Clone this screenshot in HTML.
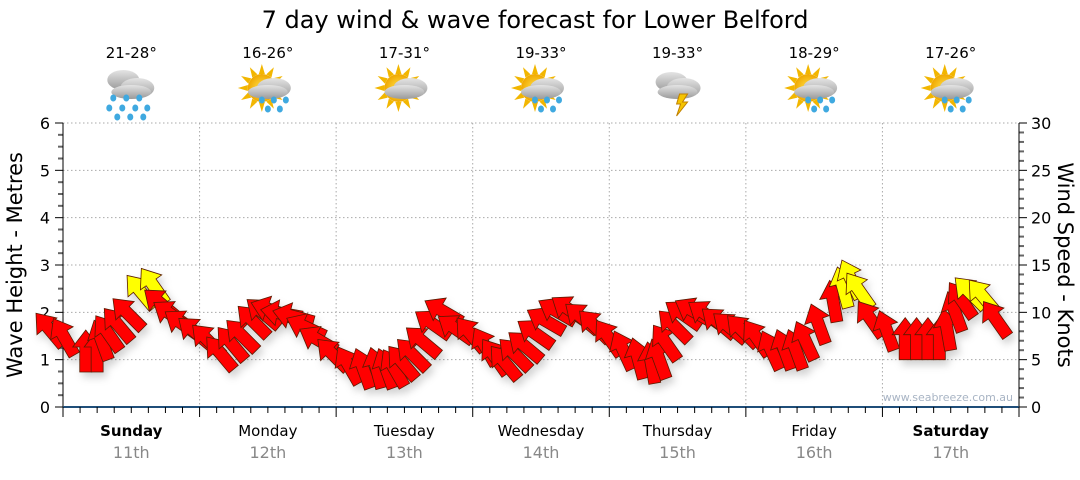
<!DOCTYPE html>
<html><head><meta charset="utf-8"><style>
body{margin:0;background:#fff;font-family:"Liberation Sans","DejaVu Sans",sans-serif}
svg text{font-family:"DejaVu Sans","Liberation Sans",sans-serif}
</style></head><body>
<svg id="c" width="1080" height="475" xmlns="http://www.w3.org/2000/svg">
<defs>
<filter id="sh" x="-50%" y="-50%" width="200%" height="200%"><feDropShadow dx="3" dy="5" stdDeviation="4" flood-color="#000" flood-opacity="0.18"/></filter>
<radialGradient id="sun"><stop offset="0" stop-color="#ffe04a"/><stop offset="1" stop-color="#f0a800"/></radialGradient>
<linearGradient id="cl" x1="0" y1="0" x2="0" y2="1"><stop offset="0" stop-color="#e4e4e4"/><stop offset="1" stop-color="#9a9a9a"/></linearGradient>
</defs>
<text x="535" y="28" font-size="24" text-anchor="middle">7 day wind &amp; wave forecast for Lower Belford</text>
<g id="grid"></g><g id="axes"></g><g id="icons"></g><g id="arrows" filter="url(#sh)"></g>
<text transform="translate(22,265) rotate(-90)" font-size="21" text-anchor="middle">Wave Height - Metres</text>
<text transform="translate(1058,265) rotate(90)" font-size="21" text-anchor="middle">Wind Speed - Knots</text>
<text x="1013" y="401" font-size="11" fill="#a8b4c4" text-anchor="end">www.seabreeze.com.au</text>
</svg>
<script>
const days=["Sunday","Monday","Tuesday","Wednesday","Thursday","Friday","Saturday"];
const dates=["11th","12th","13th","14th","15th","16th","17th"];
const temps=["21-28°","16-26°","17-31°","19-33°","19-33°","18-29°","17-26°"];
const iconTypes=["rain","sunrain","suncloud","sunrain","storm","sunrain","sunrain"];
const waveTicks=[0,1,2,3,4,5,6];
const windTicks=[0,5,10,15,20,25,30];
const windSpeed=[6.5,5.5,3.7,3.7,5,6,7,8.3,10.5,11,9.5,8.5,
7.5,6.5,5.5,4,5,6,7.5,8.5,9.5,9.5,9,7.5,
6,4,2.5,2,2,2,2.2,3,4,5.5,7.5,9,
7,6,4.5,3.5,3,4,5,6.5,8,9,9,8,
7,5.5,4,3,2.5,3,5,7,8.5,9,8.5,7.5,
7,6.5,5.5,4,4,4,5,6.7,9,10.5,11.5,10.5,
7.5,6,5,5,5,5,6,8,9.5,10.5,10,7.5];
const windDir=[-40,-30,0,0,-20,-35,-40,-45,-40,-35,-50,-55,
-55,-50,-45,-40,-40,-45,-45,-50,-70,-80,-75,-65,
-60,-45,-30,-20,-15,-20,-30,-40,-45,-50,-55,-60,
-55,-40,-30,-35,-40,-45,-50,-55,-60,-60,-55,-50,
-45,-35,-25,-15,-10,-20,-35,-45,-55,-60,-55,-50,
-50,-45,-35,-25,-20,-20,-25,-20,-10,-15,-25,-35,
-35,-20,0,0,0,0,-10,-20,-35,-45,-40,-35];
const NS="http://www.w3.org/2000/svg";
const X0=63,X1=1019,Y0=407,Y1=123;
const dayW=(X1-X0)/7;
const xT=h=>X0+h/168*(X1-X0);
const yW=m=>Y0-m/6*(Y0-Y1);
const yK=k=>Y0-k/30*(Y0-Y1);
function el(t,a,p){const e=document.createElementNS(NS,t);for(const k in a)e.setAttribute(k,a[k]);p.appendChild(e);return e;}
const grid=document.getElementById('grid'),axes=document.getElementById('axes'),icons=document.getElementById('icons'),arr=document.getElementById('arrows');
waveTicks.forEach(v=>{
 if(v>0){const g=el('line',{x1:X0,x2:X1,y1:yW(v),y2:yW(v),stroke:'#aaa','stroke-dasharray':'1.5,2.5'},grid);
 }
 const t=el('text',{x:X0-13,y:yW(v)+6,'font-size':16,'text-anchor':'end'},axes);t.textContent=v;
 
});
for(let i=0;i<=24;i++){const y=yW(i/4);el('line',{x1:X0-(i%4==0?8:5),x2:X0,y1:y,y2:y,stroke:i%4==0?'#000':'#666','stroke-width':i%4==0?1:2},axes);}
windTicks.forEach(v=>{
 const t=el('text',{x:X1+12,y:yK(v)+6,'font-size':16},axes);t.textContent=v;
 
});
for(let i=0;i<=30;i++){const y=yK(i);el('line',{x1:X1,x2:X1+(i%5==0?8:5),y1:y,y2:y,stroke:i%5==0?'#000':'#666','stroke-width':i%5==0?1:2},axes);}
el('line',{x1:X0,x2:X0,y1:Y1,y2:Y0,stroke:'#000'},axes);
el('line',{x1:X1,x2:X1,y1:Y1,y2:Y0,stroke:'#000'},axes);
el('line',{x1:X0,x2:X1,y1:Y0,y2:Y0,stroke:'#1f4e79','stroke-width':2},axes);
for(let h=0;h<=168;h+=3){const x=xT(h);el('line',{x1:x,x2:x,y1:Y0,y2:Y0+(h%24==0?10:6),stroke:'#000'},axes);}
days.forEach((d,i)=>{
 const x=X0+dayW*i;
 if(i>0){const g=el('line',{x1:x,x2:x,y1:Y1,y2:Y0,stroke:'#aaa','stroke-dasharray':'1.5,2.5'},grid);
 }
 const cx=x+dayW/2;
 const t=el('text',{x:cx,y:436,'font-size':15,'text-anchor':'middle','font-weight':(i==0||i==6)?'bold':'normal'},axes);t.textContent=d;
 
 const t2=el('text',{x:cx,y:458,'font-size':16,fill:'#888','text-anchor':'middle'},axes);t2.textContent=dates[i];
 
 const t3=el('text',{x:cx,y:58,'font-size':15,'text-anchor':'middle'},icons);t3.textContent=temps[i];
 
 const g=el('g',{transform:`translate(${cx},92)`},icons);
 
 const ty=iconTypes[i];
 if(ty!='rain'&&ty!='storm'){
  for(let k=0;k<12;k++){const a=k*30;el('polygon',{points:'-3,-14 3,-14 0,-24',fill:'#f2b600',transform:`translate(-6,-4) rotate(${a})`},g);}
  el('circle',{cx:-6,cy:-4,r:14,fill:'url(#sun)'},g);
 }
 if(ty=='rain'){el('ellipse',{cx:-8,cy:-12,rx:16,ry:10,fill:'url(#cl)'},g);}
 if(ty=='storm'){el('ellipse',{cx:-6,cy:-10,rx:16,ry:10,fill:'url(#cl)'},g);}
 el('ellipse',{cx:6,cy:-4,rx:17,ry:10,fill:'url(#cl)'},g);
 el('ellipse',{cx:0,cy:0,rx:20,ry:7,fill:'url(#cl)'},g);
 if(ty=='storm'){el('polygon',{points:'2,2 10,2 5,10 10,10 -1,24 3,12 -1,12',fill:'#f5c400',stroke:'#c08000'},g);}
 else if(ty!='suncloud'){
  const drops=ty=='rain'?[[-18,6],[-5,6],[8,6],[-22,16],[-9,16],[4,16],[16,16],[-14,25],[-1,25],[12,25]]:[[-6,8],[6,8],[18,8],[0,17],[12,17]];
  drops.forEach(p=>el('ellipse',{cx:p[0],cy:p[1],rx:3,ry:3.5,fill:'#3fa9e0'},g));
 }
});
windSpeed.forEach((s,i)=>{
 const x=xT(i*2),y=yK(s);
 const col=s>=10?'#ffff00':'#ff0000';
 const p=el('polygon',{points:'-6,0 6,0 6,-25 13,-25 0,-42 -13,-25 -6,-25',fill:col,stroke:'#5a1a00','stroke-width':0.8,transform:`translate(${x},${y}) rotate(${windDir[i]})`},arr);
 
 
});
</script>
</body></html>
